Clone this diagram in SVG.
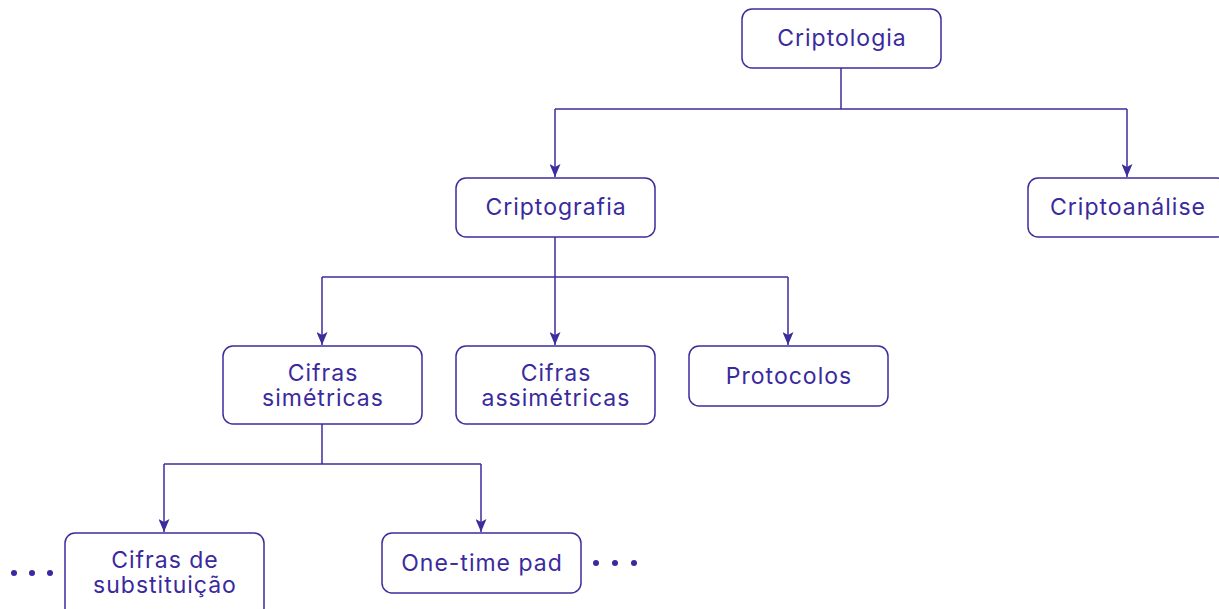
<svg xmlns="http://www.w3.org/2000/svg" width="1219" height="609" viewBox="0 0 1219 609">
  <style>
    .box { fill: #ffffff; stroke: #3b2d9b; stroke-width: 1.5; }
    .lbl { font-family: Inter, "Noto Sans", sans-serif; font-size: 23px; letter-spacing: 1px; fill: #3a2a9e; text-anchor: middle; }
    .wire { fill: none; stroke: #3b2d9b; stroke-width: 1.5; }
    .dot { fill: #3a2a9e; }
  </style>
  <defs>
    <!-- arrowhead drawn along +x, rotated with the line direction -->
    <marker id="arrow" viewBox="0 0 13 11" refX="13" refY="5.5" markerWidth="13" markerHeight="11" markerUnits="userSpaceOnUse" orient="auto">
      <path d="M0,0 L13,5.5 L0,11 L3,5.5 Z" fill="#3b2d9b"/>
    </marker>
  </defs>
  <rect width="1219" height="609" fill="#ffffff"/>

  <g id="connectors">
    <path class="wire" d="M841,68 V109"/>
    <path class="wire" d="M555,109 H1127"/>
    <path class="wire" d="M555,109 V177" marker-end="url(#arrow)"/>
    <path class="wire" d="M1127,109 V177" marker-end="url(#arrow)"/>

    <path class="wire" d="M555,237 V277"/>
    <path class="wire" d="M322,277 H788"/>
    <path class="wire" d="M322,277 V345" marker-end="url(#arrow)"/>
    <path class="wire" d="M555,277 V345" marker-end="url(#arrow)"/>
    <path class="wire" d="M788,277 V345" marker-end="url(#arrow)"/>

    <path class="wire" d="M322,424 V464"/>
    <path class="wire" d="M164,464 H481"/>
    <path class="wire" d="M164,464 V532" marker-end="url(#arrow)"/>
    <path class="wire" d="M481,464 V532" marker-end="url(#arrow)"/>
  </g>

  <g id="criptologia">
    <rect class="box" x="742" y="9" width="199" height="59" rx="10"/>
    <text class="lbl" x="842" y="46">Criptologia</text>
  </g>
  <g id="criptografia">
    <rect class="box" x="456" y="178" width="199" height="59" rx="10"/>
    <text class="lbl" x="556" y="215">Criptografia</text>
  </g>
  <g id="criptoanalise">
    <rect class="box" x="1028" y="178" width="199" height="59" rx="10"/>
    <text class="lbl" x="1128" y="215">Criptoanálise</text>
  </g>
  <g id="cifras-simetricas">
    <rect class="box" x="223" y="346" width="199" height="78" rx="10"/>
    <text class="lbl" x="323" y="381">Cifras</text>
    <text class="lbl" x="323" y="405.5">simétricas</text>
  </g>
  <g id="cifras-assimetricas">
    <rect class="box" x="456" y="346" width="199" height="78" rx="10"/>
    <text class="lbl" x="556" y="381">Cifras</text>
    <text class="lbl" x="556" y="405.5">assimétricas</text>
  </g>
  <g id="protocolos">
    <rect class="box" x="689" y="346" width="199" height="60" rx="10"/>
    <text class="lbl" x="789" y="384">Protocolos</text>
  </g>
  <g id="cifras-substituicao">
    <rect class="box" x="65" y="533" width="199" height="85" rx="10"/>
    <text class="lbl" x="165" y="568">Cifras de</text>
    <text class="lbl" x="165" y="592.5">substituição</text>
    <circle class="dot" cx="14" cy="573" r="3"/>
    <circle class="dot" cx="32" cy="573" r="3"/>
    <circle class="dot" cx="50" cy="573" r="3"/>
  </g>
  <g id="one-time-pad">
    <rect class="box" x="382" y="533" width="199" height="60" rx="10"/>
    <text class="lbl" x="482" y="570.5">One-time pad</text>
    <circle class="dot" cx="596" cy="563" r="3"/>
    <circle class="dot" cx="615" cy="563" r="3"/>
    <circle class="dot" cx="634" cy="563" r="3"/>
  </g>
</svg>
